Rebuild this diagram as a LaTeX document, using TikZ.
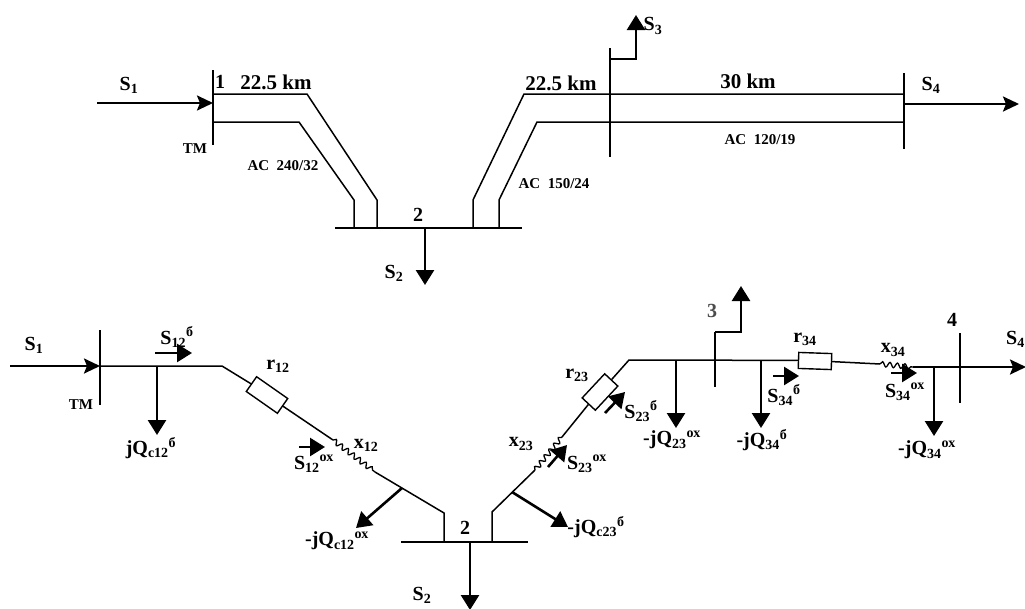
\documentclass[tikz,border=0pt]{standalone}
\usepackage{fontspec}
\setmainfont{Liberation Serif}
\usetikzlibrary{arrows.meta,decorations.pathmorphing}
\tikzset{
	wire/.style={line width=1.5pt},
	bar/.style={line width=1.6pt},
	flow/.style={line width=2.6pt,-{Triangle[length=15pt,width=18pt]}},
	flowsm/.style={line width=2.4pt,-{Stealth[length=16pt,width=15pt,inset=3pt]}},
	lbl/.style={inner sep=0pt,font=\fontsize{20}{20}\selectfont\bfseries},
	lblkm/.style={inner sep=0pt,font=\fontsize{21}{21}\selectfont\bfseries},
	lblsm/.style={inner sep=0pt,font=\fontsize{15}{15}\selectfont\bfseries},
	res/.style={draw,fill=white,line width=1.4pt,inner sep=0pt,minimum width=38pt,minimum height=18pt},
	coil/.style={line width=1.3pt,decorate,decoration={snake,amplitude=2.5pt,segment length=7.5pt}}
}
\begin{document}
\begin{tikzpicture}[x=1pt,y=-1pt]
	\useasboundingbox (0,0) rectangle (1025,608);

	\coordinate (bus1a) at (213,70);
	\coordinate (bus1b) at (213,145);
	\coordinate (up1) at (213,94);
	\coordinate (up1a) at (307,94);
	\coordinate (up1b) at (377,200);
	\coordinate (up1c) at (377,228);
	\coordinate (lo1) at (213,122);
	\coordinate (lo1a) at (299,122);
	\coordinate (lo1b) at (354,200);
	\coordinate (lo1c) at (354,228);
	\coordinate (bus2a) at (335,228);
	\coordinate (bus2b) at (522,228);
	\coordinate (up2c) at (473,228);
	\coordinate (up2b) at (473,200);
	\coordinate (up2a) at (524,94);
	\coordinate (lo2c) at (499,228);
	\coordinate (lo2b) at (499,200);
	\coordinate (lo2a) at (537,122);
	\coordinate (bus3a) at (610,48);
	\coordinate (bus3b) at (610,157);
	\coordinate (bus4a) at (904,73);
	\coordinate (bus4b) at (904,149);
	\coordinate (up4) at (904,94);
	\coordinate (lo4) at (904,122);
	\coordinate (in1) at (97,103);
	\coordinate (in1e) at (213,103);
	\coordinate (out2) at (425,229);
	\coordinate (out2e) at (425,285);
	\coordinate (out3) at (610,59);
	\coordinate (out3a) at (636,59);
	\coordinate (out3e) at (636,15);
	\coordinate (out4) at (904,104);
	\coordinate (out4e) at (1019,104);

	\draw[bar] (bus1a) -- (bus1b);
	\draw[bar] (bus2a) -- (bus2b);
	\draw[bar] (bus3a) -- (bus3b);
	\draw[bar] (bus4a) -- (bus4b);
	\draw[wire] (up1) -- (up1a) -- (up1b) -- (up1c);
	\draw[wire] (lo1) -- (lo1a) -- (lo1b) -- (lo1c);
	\draw[wire] (up2c) -- (up2b) -- (up2a) -- (up4);
	\draw[wire] (lo2c) -- (lo2b) -- (lo2a) -- (lo4);
	\draw[flowsm] (in1) -- (in1e);
	\draw[flow] (out2) -- (out2e);
	\draw[flow] (out3) -- (out3a) -- (out3e);
	\draw[flowsm] (out4) -- (out4e);

	\node[lbl] (ts1) at (129,85) {S\textsubscript{1}};
	\node[lbl] (tn1) at (220,82) {1};
	\node[lblkm] (tkm1) at (276,82) {22.5 km};
	\node[lblsm] (ttm1) at (195,149) {TM};
	\node[lblsm] (tac1) at (283,166) {AC\ \ 240/32};
	\node[lbl] (tn2) at (418,215) {2};
	\node[lbl] (ts2) at (394,273) {S\textsubscript{2}};
	\node[lblkm] (tkm2) at (561,83) {22.5 km};
	\node[lblkm] (tkm3) at (748,81) {30 km};
	\node[lbl] (ts3) at (653,26) {S\textsubscript{3}};
	\node[lbl] (ts4) at (931,85) {S\textsubscript{4}};
	\node[lblsm] (tac3) at (760,140) {AC\ \ 120/19};
	\node[lblsm] (tac2) at (554,184) {AC\ \ 150/24};

	\coordinate (bbus1a) at (100,330);
	\coordinate (bbus1b) at (100,405);
	\coordinate (bin1) at (10,366);
	\coordinate (bin1e) at (100,366);
	\coordinate (bknee1) at (222,366);
	\coordinate (bq1) at (157,366);
	\coordinate (bq1e) at (157,435);
	\coordinate (bcoil1a) at (333,440);
	\coordinate (bcoil1b) at (375,472);
	\coordinate (bj12) at (402,488);
	\coordinate (bj12e) at (356,528);
	\coordinate (bk12) at (444,513);
	\coordinate (bk12e) at (444,542);
	\coordinate (bbus2a) at (401,542);
	\coordinate (bbus2b) at (528,542);
	\coordinate (bout2) at (470,542);
	\coordinate (bout2e) at (470,610);
	\coordinate (bk23e) at (492,542);
	\coordinate (bk23) at (492,512);
	\coordinate (bj23) at (512,492);
	\coordinate (bj23e) at (568,527);
	\coordinate (bcoil2a) at (535,470);
	\coordinate (bcoil2b) at (562,437);
	\coordinate (bknee2) at (629,360);
	\coordinate (bq23) at (676,360);
	\coordinate (bq23e) at (676,428);
	\coordinate (bbus3a) at (715,332);
	\coordinate (bbus3b) at (715,387);
	\coordinate (bout3a) at (741,332);
	\coordinate (bout3e) at (741,286);
	\coordinate (bq34) at (761,360);
	\coordinate (bq34e) at (761,428);
	\coordinate (bcoil3a) at (880,364);
	\coordinate (bcoil3b) at (913,367);
	\coordinate (bq4) at (934,367);
	\coordinate (bq4e) at (934,436);
	\coordinate (bbus4a) at (960,333);
	\coordinate (bbus4b) at (960,403);
	\coordinate (bout4) at (960,367);
	\coordinate (bout4e) at (1026,367);

	\node[res,rotate=-35] (r12) at (267,395) {};
	\node[res,rotate=47,minimum width=33pt] (r23) at (600,392) {};
	\node[res,rotate=-2,minimum width=33pt,minimum height=16pt] (r34) at (815,361) {};

	\draw[bar] (bbus1a) -- (bbus1b);
	\draw[bar] (bbus2a) -- (bbus2b);
	\draw[bar] (bbus3a) -- (bbus3b);
	\draw[bar] (bbus4a) -- (bbus4b);
	\draw[wire] (bin1e) -- (bknee1) -- (r12.west);
	\draw[wire] (r12.east) -- (bcoil1a);
	\draw[coil] (bcoil1a) -- (bcoil1b);
	\draw[wire] (bcoil1b) -- (bk12) -- (bk12e);
	\draw[wire] (bk23e) -- (bk23) -- (bcoil2a);
	\draw[coil] (bcoil2a) -- (bcoil2b);
	\draw[wire] (bcoil2b) -- (r23.west);
	\draw[wire] (r23.east) -- (bknee2) -- (r34.west);
	\draw[wire] (r34.east) -- (bcoil3a);
	\draw[coil] (bcoil3a) -- (bcoil3b);
	\draw[wire] (bcoil3b) -- (bout4);

	\draw[flowsm] (bin1) -- (bin1e);
	\draw[flow] (bq1) -- (bq1e);
	\draw[flow] (bj12) -- (bj12e);
	\draw[flow] (bout2) -- (bout2e);
	\draw[flow] (bj23) -- (bj23e);
	\draw[flow] (bq23) -- (bq23e);
	\draw[flow] (bbus3a) -- (bout3a) -- (bout3e);
	\draw[flow] (bq34) -- (bq34e);
	\draw[flow] (bq4) -- (bq4e);
	\draw[flowsm] (bout4) -- (bout4e);

	\coordinate (a12a) at (155,353);
	\coordinate (a12b) at (192,353);
	\coordinate (a12c) at (299,447);
	\coordinate (a12d) at (325,447);
	\coordinate (a23a) at (605,413);
	\coordinate (a23b) at (625,392);
	\coordinate (a23c) at (548,467);
	\coordinate (a23d) at (567,445);
	\coordinate (a34a) at (773,376);
	\coordinate (a34b) at (799,376);
	\coordinate (a34c) at (891,373);
	\coordinate (a34d) at (917,373);
	\draw[flow] (a12a) -- (a12b);
	\draw[flow] (a12c) -- (a12d);
	\draw[flow] (a23a) -- (a23b);
	\draw[flow] (a23c) -- (a23d);
	\draw[flow] (a34a) -- (a34b);
	\draw[flow] (a34c) -- (a34d);

	\node[lbl] (bts1) at (34,345) {S\textsubscript{1}};
	\node[lblsm] (bttm) at (81,405) {TM};
	\node[lbl] (btp12) at (177,337) {S\textsubscript{12}\textsuperscript{б}};
	\node[lbl] (btq12) at (151,448) {jQ\textsubscript{c12}\textsuperscript{б}};
	\node[lbl] (btr12) at (278,366) {r\textsubscript{12}};
	\node[lbl] (btp12x) at (314,464) {S\textsubscript{12}\textsuperscript{ох}};
	\node[lbl] (btx12) at (366,445) {x\textsubscript{12}};
	\node[lbl] (btq12x) at (337,541) {-jQ\textsubscript{c12}\textsuperscript{ох}};
	\node[lbl] (btn2) at (465,528) {2};
	\node[lbl] (bts2) at (422,595) {S\textsubscript{2}};
	\node[lbl] (btq23b) at (596,527) {-jQ\textsubscript{c23}\textsuperscript{б}};
	\node[lbl] (btx23) at (521,444) {x\textsubscript{23}};
	\node[lbl] (btp23x) at (587,464) {S\textsubscript{23}\textsuperscript{ох}};
	\node[lbl] (btr23) at (577,375) {r\textsubscript{23}};
	\node[lbl] (btp23) at (641,411) {S\textsubscript{23}\textsuperscript{б}};
	\node[lbl] (btq23) at (672,440) {-jQ\textsubscript{23}\textsuperscript{ох}};
	\node[lbl,text=black!70] (btn3) at (712,311) {3};
	\node[lbl] (btq34) at (762,440) {-jQ\textsubscript{34}\textsuperscript{б}};
	\node[lbl] (btp34) at (784,395) {S\textsubscript{34}\textsuperscript{б}};
	\node[lbl] (btr34) at (805,339) {r\textsubscript{34}};
	\node[lbl] (btx34) at (893,350) {x\textsubscript{34}};
	\node[lbl] (btp34x) at (905,392) {S\textsubscript{34}\textsuperscript{ох}};
	\node[lbl] (btq34x) at (927,450) {-jQ\textsubscript{34}\textsuperscript{ох}};
	\node[lbl] (btn4) at (952,320) {4};
	\node[lbl,anchor=west] (bts4) at (1006,339) {S\textsubscript{4}};
\end{tikzpicture}
\end{document}
